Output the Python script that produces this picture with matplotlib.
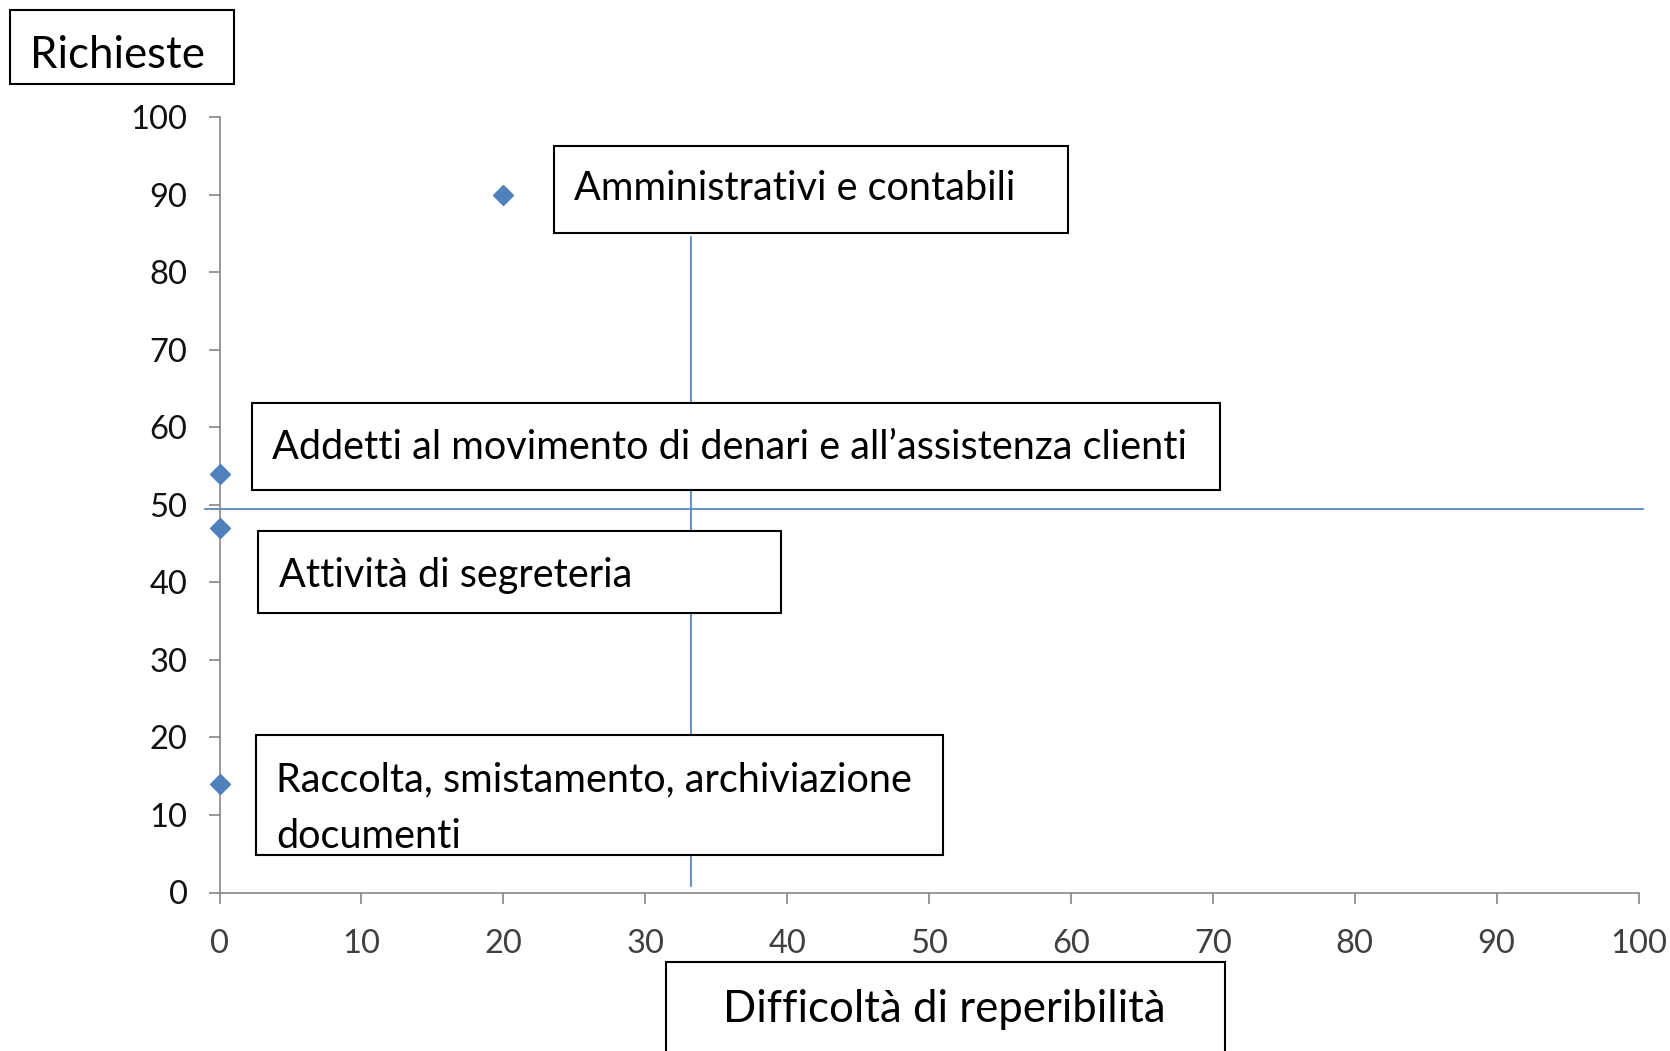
import matplotlib

matplotlib.use("Agg")
import matplotlib.pyplot as plt
from matplotlib.patches import Rectangle

# data
x_vals = [20, 0, 0, 0]
y_vals = [90, 54, 47, 14]
labels = [
    "Amministrativi e contabili",
    "Addetti al movimento di denari e all\u2019assistenza clienti",
    "Attivit\u00e0 di segreteria",
    "Raccolta, smistamento, archiviazione\ndocumenti",
]
hline_y = 49.5
hline_x = [-1, 100.3]
vline_x = 33.2
vline_y = [0.8, 84.6]
ticks = [0, 10, 20, 30, 40, 50, 60, 70, 80, 90, 100]

W, H = 1670, 1051
BLUE = "#4F81BD"
LINE = "#4A7EBB"
AXIS = "#868686"

plt.rcParams["font.family"] = ["Lato", "DejaVu Sans"]

fig = plt.figure(figsize=(W / 100, H / 100), dpi=100)
fig.patch.set_facecolor("white")


def frac(px, py):
    return px / W, 1 - py / H


def box(x0px, y0px, x1px, y1px):
    x0, y1 = frac(x0px, y0px)
    x1, y0 = frac(x1px, y1px)
    fig.add_artist(Rectangle((x0, y0), x1 - x0, y1 - y0, transform=fig.transFigure,
                             facecolor="white", edgecolor="black", linewidth=1.5, zorder=4))


left, top = frac(219.5, 117.2)
right, bottom = frac(1638.5, 892.5)
ax = fig.add_axes([left, bottom, right - left, top - bottom])

ax.set_xlim(0, 100)
ax.set_ylim(0, 100)
ax.set_xticks(ticks)
ax.set_yticks(ticks)
for s in ("top", "right"):
    ax.spines[s].set_visible(False)
for s in ("left", "bottom"):
    ax.spines[s].set_color(AXIS)
    ax.spines[s].set_linewidth(1.2)
ax.tick_params(axis="both", direction="out", length=8, width=1.2, color=AXIS, labelsize=23.5)
ax.tick_params(axis="x", pad=18, labelcolor="#404040")
ax.tick_params(axis="y", pad=15, labelcolor="#111111")

ax.plot(hline_x, [hline_y, hline_y], color=LINE, linewidth=1.2, clip_on=False, zorder=2)
ax.plot([vline_x, vline_x], vline_y, color=LINE, linewidth=1.2, clip_on=False, zorder=2)
ax.plot(x_vals, y_vals, linestyle="none", marker="D", markersize=10,
        color=BLUE, clip_on=False, zorder=6)

# label boxes: (x0, y0, x1, y1) in pixels, text start x, text centre y
boxes = [
    ((554, 146, 1068, 233), 574, 189),
    ((252, 403, 1220, 490), 272, 447),
    ((258, 531, 781, 613), 279, 576),
    ((256, 735, 943, 855), 276, 808),
]
for (bx, tx, ty), text in zip(boxes, labels):
    box(*bx)
    fig.text(*frac(tx, ty), text, ha="left", va="center", fontsize=28.5, linespacing=1.65,
             color="black", zorder=5)

# axis title boxes
box(9.6, 9.6, 234, 84)
fig.text(*frac(30, 56), "Richieste", ha="left", va="center", fontsize=31.5, zorder=5)

box(666, 962, 1225, 1065)
fig.text(*frac(723, 1009), "Difficolt\u00e0 di reperibilit\u00e0", ha="left", va="center",
         fontsize=31.5, zorder=5)

fig.savefig("out.png", dpi=100)
